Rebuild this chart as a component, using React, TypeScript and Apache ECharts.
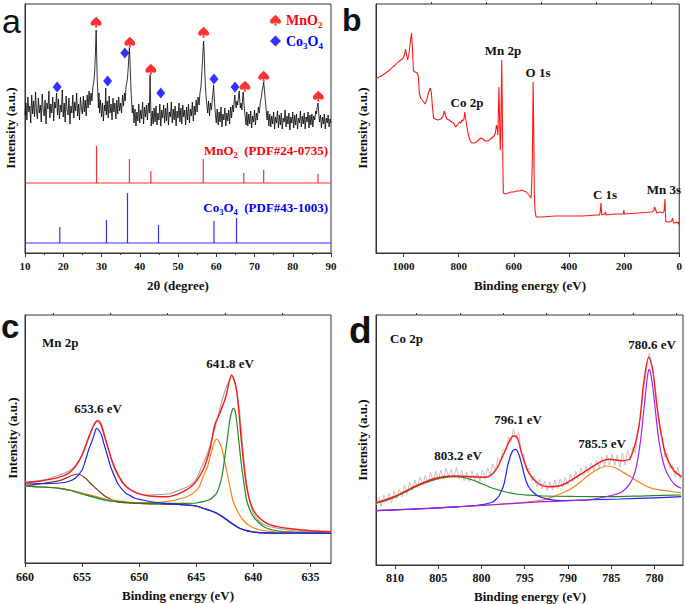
import React, { useEffect, useRef } from "react";
import * as echarts from "echarts";

// ---------------- Panel a : XRD ----------------
const xrdPattern: number[][] = [
  [10.0,138],[10.25,150],[10.5,133],[10.75,156],[11.0,141],[11.25,147],[11.5,130],[11.75,158],[12.0,139],[12.25,152],
  [12.5,136],[12.75,161],[13.0,142],[13.25,134],[13.5,155],[13.75,140],[14.0,148],[14.25,131],[14.5,159],[14.75,143],
  [15.0,137],[15.25,153],[15.5,129],[15.75,150],[16.0,144],[16.25,162],[16.5,135],[16.75,149],[17.0,140],[17.25,156],
  [17.5,132],[17.75,151],[18.0,145],[18.25,160],[18.5,138],[18.75,154],[19.0,134],[19.25,148],[19.5,141],[19.75,163],
  [20.0,136],[20.25,150],[20.5,131],[20.75,157],[21.0,143],[21.25,138],[21.5,155],[21.75,129],[22.0,147],[22.25,140],
  [22.5,158],[22.75,135],[23.0,151],[23.25,142],[23.5,160],[23.75,137],[24.0,149],[24.25,133],[24.5,156],[24.75,144],
  [25.0,139],[25.25,157],[25.5,141],[25.75,153],[26.0,137],[26.25,158],[26.5,145],[26.75,162],[27.0,148],[27.25,160],
  [27.5,152],[27.75,166],[28.0,172],[28.2,180],[28.4,198],[28.6,223],[28.75,195],[28.9,172],[29.05,160],[29.2,145],
  [29.35,160],[29.5,140],[29.75,153],[30.0,136],[30.25,150],[30.5,132],[30.75,148],[30.95,142],[31.1,165],[31.25,138],
  [31.5,152],[31.75,135],[32.0,157],[32.25,140],[32.5,149],[32.75,133],[33.0,155],[33.25,141],[33.5,150],[33.75,134],
  [34.0,153],[34.25,139],[34.5,156],[34.75,142],[35.0,150],[35.25,140],[35.5,158],[35.75,147],[36.0,160],[36.2,152],
  [36.4,166],[36.6,170],[36.8,175],[37.0,186],[37.15,196],[37.3,205],[37.45,192],[37.6,175],[37.75,160],[37.9,150],
  [38.05,140],[38.25,148],[38.5,130],[38.75,144],[39.0,127],[39.25,141],[39.5,132],[39.75,149],[40.0,130],[40.25,143],
  [40.5,134],[40.75,151],[41.0,129],[41.25,146],[41.5,136],[41.75,148],[42.0,133],[42.25,150],[42.5,140],[42.7,178],
  [42.85,150],[43.0,127],[43.25,142],[43.5,129],[43.75,145],[44.0,131],[44.25,147],[44.5,128],[44.75,140],[45.0,133],
  [45.25,149],[45.5,127],[45.75,143],[46.0,135],[46.25,148],[46.5,130],[46.75,145],[47.0,132],[47.25,150],[47.5,128],
  [47.75,141],[48.0,136],[48.25,151],[48.5,130],[48.75,144],[49.0,133],[49.25,147],[49.5,127],[49.75,142],[50.0,135],
  [50.25,150],[50.5,131],[50.75,145],[51.0,129],[51.25,148],[51.5,136],[51.75,143],[52.0,128],[52.25,146],[52.5,133],
  [52.75,149],[53.0,130],[53.25,144],[53.5,137],[53.75,151],[54.0,132],[54.25,147],[54.5,138],[54.75,153],[55.0,141],
  [55.25,156],[55.5,148],[55.75,160],[56.0,166],[56.2,178],[56.4,192],[56.55,203],[56.7,212],[56.85,200],[57.0,182],
  [57.15,168],[57.3,158],[57.5,150],[57.75,140],[58.0,152],[58.25,137],[58.5,150],[58.75,143],[59.0,156],[59.15,160],
  [59.3,168],[59.45,158],[59.6,148],[59.8,138],[60.0,130],[60.25,144],[60.5,128],[60.75,141],[61.0,131],[61.25,146],
  [61.5,126],[61.75,139],[62.0,133],[62.25,145],[62.5,127],[62.75,140],[63.0,132],[63.25,143],[63.5,129],[63.75,146],
  [64.0,135],[64.25,148],[64.5,141],[64.7,152],[64.85,158],[65.0,150],[65.2,145],[65.4,152],[65.6,148],[65.8,156],
  [66.0,162],[66.15,152],[66.3,145],[66.5,150],[66.7,143],[66.9,155],[67.05,161],[67.2,152],[67.4,142],[67.6,135],
  [67.8,128],[68.0,141],[68.25,127],[68.5,139],[68.75,129],[69.0,142],[69.25,125],[69.5,137],[69.75,131],[70.0,143],
  [70.25,128],[70.5,140],[70.75,133],[71.0,146],[71.25,140],[71.5,150],[71.75,155],[72.0,162],[72.2,166],[72.4,171],
  [72.55,165],[72.7,158],[72.9,150],[73.1,141],[73.3,133],[73.5,142],[73.75,127],[74.0,139],[74.25,126],[74.5,137],
  [74.75,129],[75.0,141],[75.25,124],[75.5,136],[75.75,130],[76.0,142],[76.25,125],[76.5,138],[76.75,128],[77.0,140],
  [77.25,124],[77.5,135],[77.75,131],[78.0,143],[78.25,126],[78.5,137],[78.75,129],[79.0,140],[79.25,123],[79.5,136],
  [79.75,130],[80.0,141],[80.25,125],[80.5,138],[80.75,128],[81.0,139],[81.25,124],[81.5,135],[81.75,130],[82.0,142],
  [82.25,126],[82.5,137],[82.75,129],[83.0,140],[83.25,124],[83.5,136],[83.75,131],[84.0,141],[84.25,125],[84.5,138],
  [84.75,128],[85.0,139],[85.25,126],[85.5,137],[85.75,133],[86.0,142],[86.2,139],[86.4,146],[86.6,150],[86.8,140],
  [87.0,131],[87.25,138],[87.5,125],[87.75,136],[88.0,129],[88.25,139],[88.5,124],[88.75,135],[89.0,130],[89.25,138],
  [89.5,126],[89.75,134],[90.0,130],
];
const mno2MarkTheta = [28.6, 37.4, 42.9, 56.7, 67.5, 72.4, 86.7];
const mno2MarkY = [231, 211, 184, 221, 167, 177, 157];
const co3o4MarkTheta = [18.4, 31.6, 36.1, 45.5, 59.4, 64.9];
const co3o4MarkY = [166, 172, 200, 160, 174, 166];
const mno2RefTheta = [28.7, 37.3, 42.9, 56.6, 67.2, 72.4, 86.6];
const mno2RefInt = [37, 24, 12, 24, 10, 13, 9];
const co3o4RefTheta = [19.1, 31.3, 36.8, 44.9, 59.4, 65.3];
const co3o4RefInt = [16, 23, 50, 18, 22, 25];

// ---------------- Panel b : XPS survey ----------------
const surveySpectrum: number[][] = [
  [1100,174],[1090,176],[1080,177],[1070,179],[1060,181],[1050,183],[1040,186],[1030,188],[1020,191],[1010,193],
  [1001,195],[996,199],[993,204],[989,198],[985,193],[980,200],[975,212],[971,220],[968,205],[964,182],[958,181],
  [950,180],[946,176],[943,160],[938,155],[930,152],[922,149],[916,153],[910,160],[903,165],[899,160],[895,145],
  [891,135],[885,134],[876,133],[865,134],[858,136],[852,142],[848,138],[843,134],[835,133],[825,131],[818,130],
  [812,126],[805,128],[797,131],[792,130],[789,133],[785,132],[781,134],[778,141],[775,135],[771,128],[765,118],
  [758,112],[752,110],[745,110],[736,111],[728,113],[720,115],[712,114],[704,112],[695,112],[688,113],[680,115],
  [672,117],[667,120],[663,128],[660,124],[658,118],[656,140],[654,166],[652,140],[650,110],[649,103],[647,120],
  [645,170],[644,193],[642,150],[640,90],[638,60],[630,59],[620,60],[610,61],[600,61],[590,62],[580,62],[570,63],
  [563,62],[555,61],[545,58],[540,56],[537,55],[533,90],[530,171],[528,130],[526,60],[523,42],[519,36],[500,36],
  [450,37],[400,37],[350,37],[300,38],[290,38],[287,40],[284,50],[281,38],[270,39],[268,41],[265,38],[230,39],
  [203,39],[201,43],[199,39],[150,40],[100,41],[93,42],[89,46],[86,44],[82,40],[70,41],[60,40],[55,42],[52,54],
  [49,32],[45,31],[35,31],[28,32],[24,35],[21,30],[15,30],[10,31],[5,30],[3,31],[0,28],
];

// ---------------- Panel c : Mn 2p ----------------
const mnRaw: number[][] = [
  [660,81],[659,82],[658,84],[657.5,86],[657,88],[656.5,90],[656,93],[655.5,99],[655,108],[654.5,122],[654.2,131],
  [653.9,139],[653.6,143],[653.3,139],[653,127],[652.6,110],[652.2,95],[651.8,86],[651.3,78],[650.8,73],[650.2,70],
  [649.5,68],[649,68],[648.5,68.5],[648,68.5],[647.5,69],[647,70.5],[646.5,73],[646,75],[645.5,78],[645,84],
  [644.5,97],[644,110],[643.6,125],[643.2,142],[642.8,160],[642.4,175],[642.1,182],[641.9,186],[641.7,184],
  [641.5,174],[641.2,150],[641,125],[640.8,100],[640.5,72],[640.2,57],[640,50],[639.5,42],[639,38],[638,35],
  [637,33],[636,32],[635,31.5],[634,31],[633.2,31],
];
const mnBackground: number[][] = [
  [660,77],[658.5,76],[657,74.7],[656,72.5],[655.6,71.3],[655,69],[654.1,66.3],[653.3,63.5],[652.6,62],[651.2,60.3],
  [649.5,59.3],[648.2,59],[646.5,58.5],[645.9,58],[645,57],[644.4,54.7],[643.8,52.5],[643.2,49.7],[642.6,45.5],
  [642.1,41.3],[641.6,37.5],[641.2,34.7],[640.6,32.3],[640,31],[639,30.2],[637,29.9],[633.2,29.7],
];
const mnSat: number[][] = [
  [660,77],[658.5,79.5],[657,82.3],[656.2,86],[655.9,87.5],[655.35,89],[654.7,84.7],[654.3,80],[653.8,74.7],
  [653.4,70.5],[652.9,66.3],[652,61.3],[651.2,60.3],[649.5,59.3],[648.2,59],[646.5,58.5],[645.9,58],[645,57],
  [644.4,54.7],[643.8,52.5],[643.2,49.7],[642.6,45.5],[642.1,41.3],[641.6,37.5],[641.2,34.7],[640.6,32.3],
  [640,31],[639,30.2],[637,29.9],[633.2,29.7],
];
const mn2p12: number[][] = [
  [660,79],[658.5,79.3],[657,80],[656.2,81.5],[655.6,84.7],[655,93],[654.7,103],[654.4,114],[654.1,123],
  [653.9,130],[653.75,134.7],[653.55,133],[653.3,128],[653.1,119.7],[652.8,108],[652.5,96.3],[652.1,85],
  [651.8,78],[651.2,70],[650.9,68],[650.3,64.5],[649.7,63],[648.8,61],[647.6,59.7],[646.5,58.7],[645.9,58],
  [645,57],[644.4,54.7],[643.8,52.5],[643.2,49.7],[642.6,45.5],[642.1,41.3],[641.6,37.5],[641.2,34.7],
  [640.6,32.3],[640,31],[639,30.2],[637,29.9],[633.2,29.7],
];
const mnHigh: number[][] = [
  [660,77],[658.5,76],[657,74.7],[656,72.8],[655,70],[654.1,67.5],[653,64],[652,62.3],[651,61],[650,60.5],
  [649,60.5],[648,61],[647,62.5],[646.5,64],[645.9,66],[645.3,69.7],[644.8,75],[644.4,86.3],[644,97],
  [643.8,106.3],[643.6,114],[643.4,121.3],[643.2,124],[643,121],[642.8,116.3],[642.6,106],[642.35,93],
  [642.1,79],[641.8,63],[641.4,52],[640.9,43],[640.3,37],[639.4,33],[638,31],[637.1,30.3],[635,30],[633.2,29.7],
];
const mn2p32: number[][] = [
  [660,77],[658.5,76],[657,74.7],[656,72.5],[655,69],[654.1,66.3],[653,63],[652,61.5],[651,60.5],[650,60],
  [648,59.7],[646,59.7],[645,60],[644.4,61.3],[643.8,63.5],[643.5,66.3],[643.2,70],[642.9,79.7],[642.7,90],
  [642.5,106.3],[642.3,122],[642.06,143],[641.9,151],[641.76,154.7],[641.6,152],[641.47,143],[641.3,125],
  [641.03,96.3],[640.8,78],[640.59,63],[640.3,53],[640,46.3],[639.4,39],[638.82,34.7],[637.5,31.5],
  [636.5,31],[635,30.3],[633.2,29.7],
];
const mnEnvelope: number[][] = [
  [660,80.3],[658.5,82.3],[657.06,85.7],[656.18,89.7],[655.59,96.3],[655,108],[654.41,126.3],[653.97,138],
  [653.68,142],[653.38,139],[652.94,123],[652.35,101.3],[651.76,86.3],[651.18,77],[650.29,70.3],[649.12,67],
  [647.65,66.3],[646.47,69.7],[645.29,78],[644.41,93],[643.82,113],[643.38,138],[642.94,149.7],[642.41,166.3],
  [641.91,188],[641.47,173],[641.03,119.7],[640.59,76.3],[640,53],[638.82,39.7],[637.06,34.7],[635,32.3],
  [633.2,31.3],
];

// ---------------- Panel d : Co 2p ----------------
const coRaw: number[][] = [
  [812.2,60],[811.9,68],[811.6,58],[811.3,70],[811.0,63],[810.7,72],[810.4,62],[810.1,74],[809.8,66],[809.5,76],
  [809.2,68],[808.9,80],[808.6,71],[808.3,83],[808.0,74],[807.7,85],[807.4,77],[807.1,88],[806.8,80],[806.5,90],
  [806.2,82],[805.9,93],[805.6,84],[805.3,94],[805.0,85],[804.7,95],[804.4,86],[804.1,97],[803.8,88],[803.5,96],
  [803.2,87],[802.9,98],[802.6,86],[802.3,95],[802.0,84],[801.7,93],[801.4,83],[801.1,94],[800.8,85],[800.5,92],
  [800.2,84],[799.9,95],[799.6,86],[799.3,97],[799.0,90],[798.7,101],[798.4,95],[798.1,107],[797.8,103],[797.5,116],
  [797.2,113],[796.9,128],[796.6,123],[796.3,136],[796.0,126],[795.7,133],[795.4,112],[795.1,110],[794.8,94],
  [794.5,97],[794.2,84],[793.9,89],[793.6,78],[793.3,86],[793.0,76],[792.7,84],[792.4,74],[792.1,83],[791.8,75],
  [791.5,85],[791.2,76],[790.9,86],[790.6,78],[790.3,88],[790.0,80],[789.7,91],[789.4,83],[789.1,94],[788.8,86],
  [788.5,97],[788.2,89],[787.9,99],[787.6,92],[787.3,102],[787.0,94],[786.7,105],[786.4,97],[786.1,108],[785.8,99],
  [785.5,110],[785.2,100],[784.9,111],[784.6,99],[784.3,110],[784.0,98],[783.7,112],[783.4,100],[783.1,115],
  [782.8,104],[782.5,118],[782.2,112],[781.9,135],[781.6,150],[781.3,172],[781.0,190],[780.8,205],[780.6,212],
  [780.4,203],[780.2,196],[780.0,180],[779.7,160],[779.4,136],[779.1,128],[778.8,108],[778.5,112],[778.2,96],
  [777.9,100],[777.6,88],[777.3,98],[777.0,86],[776.8,92],
];
const coSat2: number[][] = [
  [812.2,61.7],[811,64.5],[809.9,68.3],[808.7,73.5],[807.6,78.3],[806.4,82.5],[805.3,85.7],[804.2,87.6],
  [803.2,88.3],[802.1,87.5],[801.05,85],[799.9,81],[798.7,76.7],[797.4,73.5],[796,71],[794.5,69.8],[792.95,69],
  [789,68.5],[785.3,68.3],[781,69.2],[776.9,70],
];
const coSat1: number[][] = [
  [812.2,54.3],[806,56.5],[800.7,59.3],[796,62],[792.95,65],[791.5,69],[789.9,75],[788.7,82],[787.6,90],
  [786.5,96],[785.5,99],[784.6,97.5],[783.75,93.3],[782.9,89],[782.2,85],[781.2,80],[780.3,76.7],[778.5,74],
  [776.9,72.3],
];
const co2p12: number[][] = [
  [812.2,54.3],[806,56.5],[802.6,58.3],[800.7,59.5],[799.5,61],[798.7,63],[798.35,65.5],[797.97,69],[797.6,76],
  [797.4,81],[797.2,89],[797.0,98.3],[796.8,105],[796.6,110.5],[796.4,114],[796.1,115.7],[795.85,114],
  [795.6,108.5],[795.3,99],[795.1,91.7],[794.8,83],[794.5,77.5],[794.1,73.3],[793.35,68.5],[792.2,65.7],
  [790.65,64.5],[788,65],[784,66],[780,67.2],[776.9,68.3],
];
const co2p32: number[][] = [
  [812.2,54.3],[800,59.5],[792.95,63.3],[789,64.5],[787.2,65.7],[785.5,68.5],[784.1,71.7],[783.3,76.5],
  [782.6,85],[782.1,98],[781.6,125],[781.25,153],[780.95,178.3],[780.75,192],[780.6,195.7],[780.45,192],
  [780.2,178.3],[779.9,155],[779.5,125],[779,103],[778.55,91.7],[778,84],[777.6,80],[776.9,76.7],
];
const coEnvelope: number[][] = [
  [812.2,62.3],[809.9,69],[807.6,79],[805.3,86.7],[803.2,89],[801.05,88.3],[799.5,87.7],[798.35,95],[797.4,111.7],
  [796.6,126.7],[796.2,129.3],[795.85,127],[795.3,110],[794.5,91.7],[793.35,81],[792.2,78.3],[790.65,80],
  [788.35,91.7],[786.4,102.3],[785.3,105.7],[783.75,104.3],[782.8,106.7],[781.8,138.3],[781.25,181.7],
  [780.65,207.7],[780.2,195],[779.6,151.7],[778.75,111.7],[777.8,95],[776.9,88.3],
];

// tick labels
const surveyTicks = [0, 200, 400, 600, 800, 1000];
const surveyMinor = [100, 300, 500, 700, 900];
const mnTicks = [635, 640, 645, 650, 655, 660];
const mnMinor = [637.5, 642.5, 647.5, 652.5, 657.5];
const coTicks = [780, 785, 790, 795, 800, 805, 810];
const coMinor = [777.5, 782.5, 787.5, 792.5, 797.5, 802.5, 807.5];

const SERIF = "'Liberation Serif', 'Times New Roman', serif";
const SANS = "'Liberation Sans', Arial, sans-serif";
const AXIS = "#333";
const SPADE =
  "path://M50 0 C42 18 0 38 0 64 C0 82 22 92 40 78 C43 76 45 73 46 71 L38 100 L62 100 L54 71 C55 73 57 76 60 78 C78 92 100 82 100 64 C100 38 58 18 50 0 Z";

function sticks(pos: number[], h: number[], base: number, lo: number, hi: number) {
  const out: number[][] = [[lo, base]];
  pos.forEach((p, i) => {
    out.push([p, base], [p, base + h[i]], [p, base]);
  });
  out.push([hi, base]);
  return out;
}

function mainX(gridIndex: number, min: number, max: number, inverse: boolean, ticks?: number[], fs = 11, margin = 7, interval?: number) {
  const ax: any = {
    type: "value",
    gridIndex,
    min,
    max,
    inverse,
    axisLine: { show: true, onZero: false, lineStyle: { color: AXIS, width: 1 } },
    axisTick: { show: true, length: 4, lineStyle: { color: AXIS } },
    axisLabel: {
      fontFamily: SERIF,
      fontWeight: "bold",
      fontSize: fs,
      color: "#111",
      margin,
      formatter: (v: number) => String(v),
    },
    splitLine: { show: false },
  };
  if (interval) {
    ax.interval = interval;
    ax.minorTick = { show: true, splitNumber: 2, length: 2, lineStyle: { color: AXIS } };
  }
  if (ticks) {
    ax.axisTick.customValues = ticks;
    ax.axisLabel.customValues = ticks;
  }
  return ax;
}
function minorX(gridIndex: number, min: number, max: number, inverse: boolean, vals: number[]) {
  return {
    type: "value",
    gridIndex,
    min,
    max,
    inverse,
    axisLine: { show: false, onZero: false },
    axisTick: { show: true, length: 2, customValues: vals, lineStyle: { color: AXIS } },
    axisLabel: { show: false },
    splitLine: { show: false },
  };
}
function yAx(gridIndex: number, max: number) {
  return {
    type: "value",
    gridIndex,
    min: 0,
    max,
    axisLine: { show: true, onZero: false, lineStyle: { color: AXIS } },
    axisTick: { show: false },
    axisLabel: { show: false },
    splitLine: { show: false },
  };
}
function line(xi: number, yi: number, data: number[][], color: string, width = 1.2, smooth: any = false, name?: string) {
  return {
    type: "line",
    name,
    xAxisIndex: xi,
    yAxisIndex: yi,
    data,
    showSymbol: false,
    symbol: "none",
    smooth,
    lineStyle: { color, width },
    itemStyle: { color },
    silent: true,
  };
}
function txt(x: number, y: number, text: string, opts: any = {}) {
  return {
    type: "text",
    x,
    y,
    rotation: opts.rotation || 0,
    style: {
      text,
      fill: opts.fill || "#111",
      fontFamily: opts.font || SERIF,
      fontWeight: opts.weight || "bold",
      fontSize: opts.size || 13,
      align: opts.align || "center",
      verticalAlign: "middle",
      rich: opts.rich,
    },
    silent: true,
  };
}
function subRich(color: string, size: number) {
  return {
    n: { fill: color, fontFamily: SERIF, fontWeight: "bold", fontSize: size, lineHeight: size + 4 },
    s: { fill: color, fontFamily: SERIF, fontWeight: "bold", fontSize: size * 0.65, lineHeight: size * 0.7, verticalAlign: "bottom" },
  };
}
function legendCfg(top: number, name: string, icon: string, color: string, label: string) {
  return {
    show: true,
    left: 270,
    top,
    padding: 0,
    orient: "vertical",
    itemWidth: 11,
    itemHeight: 11,
    selectedMode: false,
    data: [{ name, icon, itemStyle: { color } }],
    formatter: () => label,
    textStyle: {
      color,
      fontFamily: SERIF,
      fontWeight: "bold",
      fontSize: 14,
      rich: {
        n: { color, fontFamily: SERIF, fontWeight: "bold", fontSize: 14, lineHeight: 18 },
        s: { color, fontFamily: SERIF, fontWeight: "bold", fontSize: 9, lineHeight: 10, verticalAlign: "bottom" },
      },
    },
  };
}

export default function App() {
  const ref = useRef<HTMLDivElement>(null);
  useEffect(() => {
    if (!ref.current) return;
    const chart = echarts.init(ref.current, null, { renderer: "svg" });
    const RED = "#ff1a1a";
    const option: any = {
      animation: false,
      backgroundColor: "#fff",
      grid: [
        { left: 25, top: 4, width: 306, height: 249, show: true, borderColor: AXIS, borderWidth: 1 },
        { left: 376, top: 4, width: 307, height: 249, show: true, borderColor: AXIS, borderWidth: 1 },
        { left: 25, top: 315, width: 306, height: 248, show: true, borderColor: AXIS, borderWidth: 1 },
        { left: 376, top: 315, width: 307, height: 250, show: true, borderColor: AXIS, borderWidth: 1 },
      ],
      xAxis: [
        mainX(0, 10, 90, false, undefined, 11, 7, 10),
        mainX(1, 0, 1100, true, surveyTicks, 11, 7),
        minorX(1, 0, 1100, true, surveyMinor),
        mainX(2, 633.2, 660, true, mnTicks, 12, 8),
        minorX(2, 633.2, 660, true, mnMinor),
        mainX(3, 776.7, 812.2, true, coTicks, 12, 7),
        minorX(3, 776.7, 812.2, true, coMinor),
      ],
      yAxis: [yAx(0, 249), yAx(1, 249), yAx(2, 248), yAx(3, 250)],
      legend: [
        legendCfg(13, "MnO2", SPADE, "#ff0000", "{n|MnO}{s|2}"),
        legendCfg(34, "Co3O4", "diamond", "#0000ff", "{n|Co}{s|3}{n|O}{s|4}"),
      ],
      series: [
        // panel a
        line(0, 0, xrdPattern, "#000", 0.8),
        line(0, 0, sticks(mno2RefTheta, mno2RefInt, 70, 10, 90), "#ff3030", 1.2),
        line(0, 0, sticks(co3o4RefTheta, co3o4RefInt, 10, 10, 90), "#3030ff", 1.2),
        {
          type: "scatter",
          name: "MnO2",
          xAxisIndex: 0,
          yAxisIndex: 0,
          symbol: SPADE,
          symbolSize: [11, 11],
          itemStyle: { color: "#ff0000" },
          data: mno2MarkTheta.map((t, i) => [t, mno2MarkY[i]]),
          silent: true,
        },
        {
          type: "scatter",
          name: "Co3O4",
          xAxisIndex: 0,
          yAxisIndex: 0,
          symbol: "diamond",
          symbolSize: [9, 11],
          itemStyle: { color: "#0000ff" },
          data: co3o4MarkTheta.map((t, i) => [t, co3o4MarkY[i]]),
          silent: true,
        },
        // panel b
        line(1, 1, surveySpectrum, RED, 1.1),
        // panel c
        line(3, 2, mnRaw, "#a8a8a8", 1.2, 0.3),
        line(3, 2, mnBackground, "#1fa3a3", 1.2, 0.3),
        line(3, 2, mnSat, "#7a3b12", 1.2, 0.3),
        line(3, 2, mnHigh, "#ff7f0e", 1.2, 0.3),
        line(3, 2, mn2p32, "#1f8a1f", 1.2, 0.3),
        line(3, 2, mn2p12, "#1f1fff", 1.2, 0.3),
        line(3, 2, mnEnvelope, RED, 1.4, 0.3),
        // panel d
        line(5, 3, coRaw, "#c4c4c4", 1.0),
        line(5, 3, coSat1, "#ff7f0e", 1.2, 0.3),
        line(5, 3, coSat2, "#1f8a1f", 1.2, 0.3),
        line(5, 3, co2p12, "#1f1fff", 1.2, 0.3),
        line(5, 3, co2p32, "#a020f0", 1.2, 0.3),
        line(5, 3, coEnvelope, RED, 1.4, 0.3),
      ],
      graphic: [
        // panel letters
        txt(2, 21, "a", { font: SANS, weight: "normal", size: 34, align: "left" }),
        txt(342, 20, "b", { font: SANS, weight: "bold", size: 32, align: "left" }),
        txt(1, 326, "c", { font: SANS, weight: "bold", size: 33, align: "left" }),
        txt(349, 330, "d", { font: SANS, weight: "bold", size: 37, align: "left" }),
        // axis names
        txt(178, 285, "2θ (degree)", { size: 13 }),
        txt(530, 285, "Binding energy (eV)", { size: 13 }),
        txt(178, 595, "Binding energy (eV)", { size: 13 }),
        txt(530, 596, "Binding energy (eV)", { size: 13 }),
        txt(10, 128, "Intensity (a.u.)", { size: 13, rotation: Math.PI / 2 }),
        txt(362, 128, "Intensity (a.u.)", { size: 13, rotation: Math.PI / 2 }),
        txt(12, 438, "Intensity (a.u.)", { size: 13, rotation: Math.PI / 2 }),
        txt(362, 440, "Intensity (a.u.)", { size: 13, rotation: Math.PI / 2 }),
        // panel a reference labels
        txt(328, 150, "{n|MnO}{s|2}{n|  (PDF#24-0735)}", { align: "right", fill: "#ff0000", rich: subRich("#ff0000", 13) }),
        txt(328, 207, "{n|Co}{s|3}{n|O}{s|4}{n|  (PDF#43-1003)}", { align: "right", fill: "#0000ff", rich: subRich("#0000ff", 13) }),
        // panel b
        txt(503, 50, "Mn 2p", { size: 13 }),
        txt(538, 72, "O 1s", { size: 13 }),
        txt(467, 102, "Co 2p", { size: 13 }),
        txt(605, 194, "C 1s", { size: 13 }),
        txt(664, 189, "Mn 3s", { size: 13 }),
        // panel c
        txt(42, 342, "Mn 2p", { size: 13, align: "left" }),
        txt(98, 408, "653.6 eV", { size: 13 }),
        txt(230, 363, "641.8 eV", { size: 13 }),
        // panel d
        txt(390, 338, "Co 2p", { size: 13, align: "left" }),
        txt(458, 455, "803.2 eV", { size: 13 }),
        txt(518, 419, "796.1 eV", { size: 13 }),
        txt(602, 443, "785.5 eV", { size: 13 }),
        txt(652, 344, "780.6 eV", { size: 13 }),
      ],
    };
    chart.setOption(option);
    return () => chart.dispose();
  }, []);
  return (
    <div
      ref={ref}
      style={{ position: "absolute", left: 0, top: 0, width: 685, height: 604, background: "#fff" }}
    />
  );
}
